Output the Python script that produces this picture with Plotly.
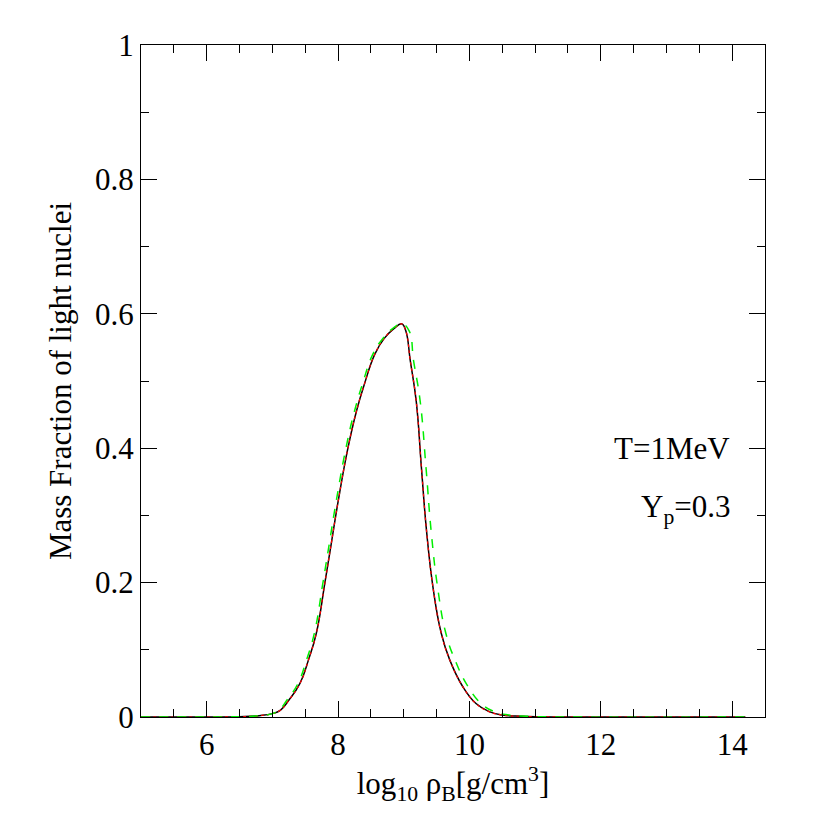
import plotly.graph_objects as go

# black / red curve
x_main = [5.0, 6.0, 6.5, 6.8, 7.0, 7.12, 7.25, 7.42, 7.55, 7.67, 7.8, 7.9, 8.0, 8.15, 8.28, 8.4, 8.56, 8.7, 8.85, 8.97,
          9.03, 9.1, 9.19, 9.27, 9.35, 9.45, 9.57, 9.7, 9.9, 10.1, 10.3, 10.5, 10.8, 11.5, 14.2]
y_main = [0.0, 0.0, 0.0005, 0.002, 0.005, 0.01, 0.025, 0.05, 0.085, 0.125, 0.2, 0.26, 0.32, 0.40, 0.455, 0.495, 0.54, 0.563, 0.578, 0.585,
          0.575, 0.53, 0.47, 0.37, 0.274, 0.19, 0.125, 0.085, 0.045, 0.02, 0.008, 0.003, 0.001, 0.0, 0.0]

# green dashed curve
x_green = [5.0, 6.0, 6.5, 6.8, 7.0, 7.1, 7.22, 7.39, 7.52, 7.64, 7.77, 7.87, 7.97, 8.12, 8.25, 8.37, 8.53, 8.68, 8.83, 8.97,
           9.08, 9.15, 9.25, 9.34, 9.42, 9.52, 9.64, 9.78, 9.98, 10.18, 10.38, 10.6, 10.9, 11.5, 14.2]
y_green = y_main

fig = go.Figure()
fig.add_trace(go.Scatter(x=x_main, y=y_main, mode="lines", line=dict(color="black", width=1.5, shape="spline", smoothing=1.3)))
fig.add_trace(go.Scatter(x=x_main, y=y_main, mode="lines", line=dict(color="red", width=1.2, shape="spline", smoothing=1.3, dash="dot")))
fig.add_trace(go.Scatter(x=x_green, y=y_green, mode="lines", line=dict(color="#00ee00", width=1.5, shape="spline", smoothing=1.3, dash="dash")))

font = dict(family="Liberation Serif, DejaVu Serif, serif", size=31, color="black")
axis = dict(showline=True, linecolor="black", linewidth=1.2, mirror="allticks", ticks="inside",
            ticklen=16, tickcolor="black", showgrid=False, zeroline=False, tickfont=font,
            minor=dict(ticks="inside", ticklen=8, tickcolor="black"))

fig.update_layout(
    width=830, height=830, showlegend=False,
    plot_bgcolor="white", paper_bgcolor="white",
    margin=dict(l=133, r=73, t=37, b=121),
    xaxis=dict(axis, range=[5, 14.5], dtick=2, tick0=0, minor=dict(axis["minor"], dtick=0.5),
               title=dict(text="log<sub>10</sub> ρ<sub>B</sub>[g/cm<sup>3</sup>]", font=font, standoff=10)),
    yaxis=dict(axis, range=[0, 1], dtick=0.2, tickformat="~g", minor=dict(axis["minor"], dtick=0.1),
               title=dict(text="Mass Fraction of light nuclei", font=font, standoff=14)),
    annotations=[
        dict(x=14.0, y=0.40, xref="x", yref="y", text="T=1MeV", showarrow=False, xanchor="right", font=font),
        dict(x=14.0, y=0.31, xref="x", yref="y", text="Y<sub>p</sub>=0.3", showarrow=False, xanchor="right", font=font),
    ],
)
fig.write_html("out.html")
